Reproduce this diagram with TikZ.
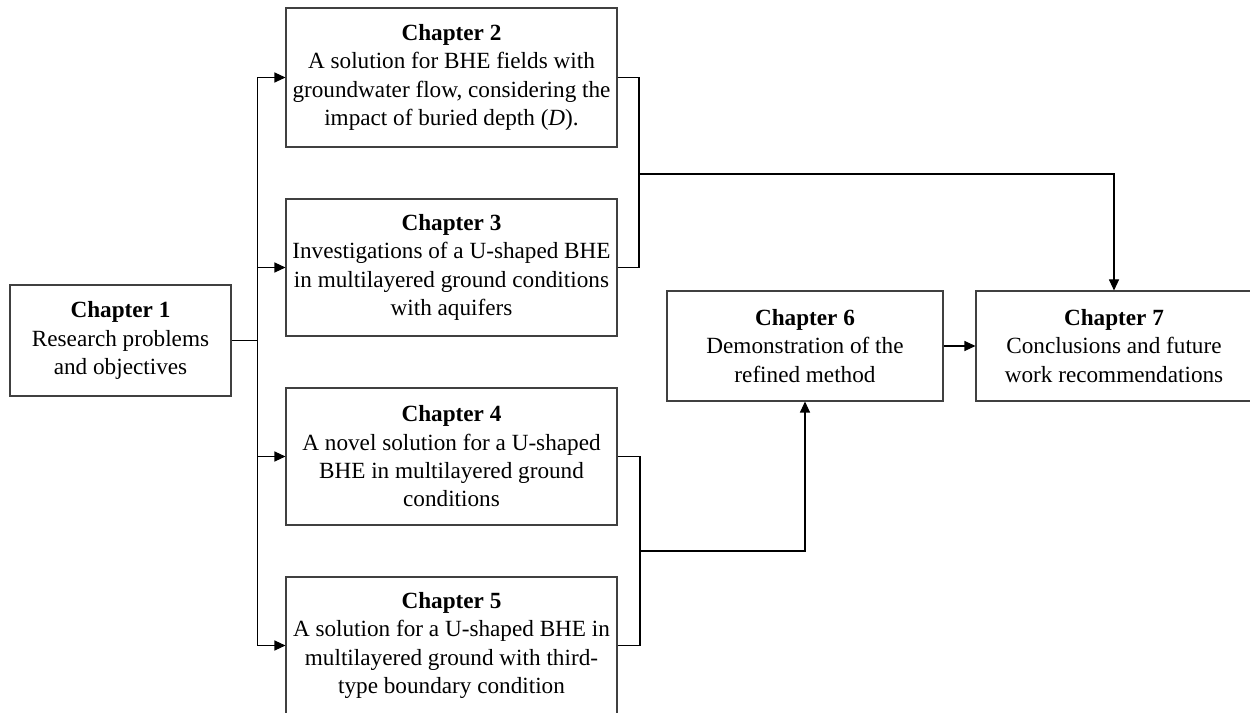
\documentclass[tikz,border=0pt]{standalone}
\usepackage{fontspec}
\setmainfont{Liberation Serif}
\usetikzlibrary{arrows.meta, calc}

\begin{document}
\begin{tikzpicture}[x=0.2mm, y=-0.2mm, >={Triangle[length=2.2mm, width=2mm]}, line width=0.6pt]
\tikzset{
    chapter/.style={draw=black!75, rectangle, minimum width=6.62cm, minimum height=2.74cm, inner xsep=1pt, align=center, font=\fontsize{13.2}{16.1}\selectfont},
    wide/.style={chapter, minimum width=5.52cm, minimum height=2.2cm},
    link/.style={draw=black}
}
\clip (0,0) rectangle (1250,713);
\node[chapter, minimum width=4.42cm, minimum height=2.22cm] (Ch1) at (120.5, 340.5) {\textbf{Chapter 1}\\Research problems\\and objectives};
\node[chapter, minimum height=2.78cm] (Ch2) at (451.5, 77.5) {\textbf{Chapter 2}\\A solution for BHE fields with\\groundwater flow, considering the\\impact of buried depth (\textit{D}).};
\node[chapter] (Ch3) at (451.5, 267.5) {\textbf{Chapter 3}\\Investigations of a U-shaped BHE\\in multilayered ground conditions\\with aquifers};
\node[chapter] (Ch4) at (451.5, 456.5) {\textbf{Chapter 4}\\A novel solution for a U-shaped\\BHE in multilayered ground\\conditions};
\node[chapter] (Ch5) at (451.5, 645.5) {\textbf{Chapter 5}\\A solution for a U-shaped BHE in\\multilayered ground with third-\\type boundary condition};
\node[wide] (Ch6) at (805, 346) {\textbf{Chapter 6}\\Demonstration of the\\refined method};
\node[wide] (Ch7) at (1114, 346) {\textbf{Chapter 7}\\Conclusions and future\\work recommendations};
\coordinate (Split) at (257.5, 340.5);
\coordinate (JoinA) at (639, 174);
\coordinate (JoinB) at (640, 551);
% chapter 1 feeds 2-5
\draw[link] (Ch1.east) -- (Split);
\draw[link] (Split |- Ch2.west) -- (Split |- Ch5.west);
\foreach \n in {Ch2, Ch3, Ch4, Ch5} \draw[link, ->] (Split |- \n.west) -- (\n.west);
% chapters 2-3 to 7, chapters 4-5 to 6
\draw[link] (Ch2.east) -| (JoinA) |- (Ch3.east); \draw[link, ->] (JoinA) -| (Ch7.north);
\draw[link] (Ch4.east) -| (JoinB) |- (Ch5.east); \draw[link, ->] (JoinB) -| (Ch6.south);
\draw[link, ->] (Ch6) -- (Ch7);
\end{tikzpicture}
\end{document}
